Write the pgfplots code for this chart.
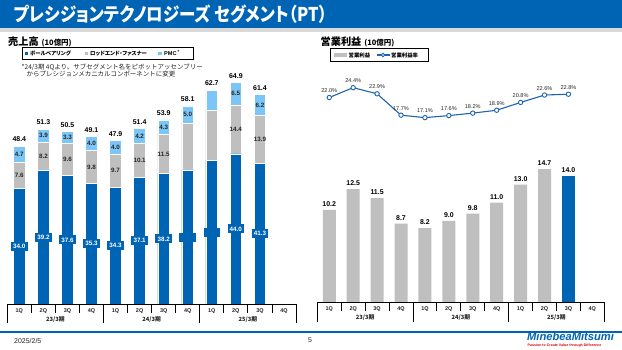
\documentclass[border=0pt]{standalone}
\usepackage{pgfplots}
\pgfplotsset{compat=1.18}
\usepackage{pgfplotstable}
\usepackage{graphicx}
\usepackage{fontspec}
\setmainfont{Liberation Sans}
\newfontfamily\jp[RawFeature=+palt]{Noto Sans CJK JP}
\newfontfamily\jpf{Noto Sans CJK JP}
\definecolor{pblue}{HTML}{0064B4}
\definecolor{lblue}{HTML}{7CC5F7}
\definecolor{pgray}{HTML}{BFBFBF}
\definecolor{lineblue}{HTML}{1E64AF}
\definecolor{hdr}{HTML}{0064B4}
\definecolor{txt}{HTML}{262626}
\definecolor{strip}{HTML}{D9D9D9}
\newcommand{\hid}[1]{\textcolor{pblue}{#1}}
\newcommand{\fs}[1]{\fontsize{#1}{#1}\selectfont}

\pgfplotstableread{
x bb re pmc total bbl rel pmcl
0 34.0 7.6 4.7 48.4 34.0 7.6 4.7
1 39.2 8.2 3.9 51.3 39.2 8.2 3.9
2 37.6 9.6 3.3 50.5 37.6 9.6 3.3
3 35.3 9.8 4.0 49.1 35.3 9.8 4.0
4 34.3 9.7 4.0 47.9 34.3 9.7 4.0
5 37.1 10.1 4.2 51.4 37.1 10.1 4.2
6 38.2 11.5 4.3 53.9 38.2 11.5 4.3
7 39.1 14.0 5.0 58.1 \hid{39.1} {} 5.0
8 42.2 14.5 6.0 62.7 \hid{42.2} {} {}
9 44.0 14.4 6.5 64.9 44.0 14.4 6.5
10 41.3 13.9 6.2 61.4 41.3 13.9 6.2
}\sales

\pgfplotsset{
  qaxis/.style={
    anchor=south west, scale only axis,
    xmin=-0.5, xmax=11.5, ymin=0,
    axis x line*=bottom, axis y line=none,
    x axis line style={-, black, line width=0.8bp},
    xtick={0,...,11},
    xticklabels={1Q,2Q,3Q,4Q,1Q,2Q,3Q,4Q,1Q,2Q,3Q,4Q},
    major tick length=0pt,
    xticklabel style={font=\bfseries\fs{5.5}, text=txt, yshift=-1bp},
    clip=false, axis on top,
  },
  lbl/.style={only marks, mark=text, text mark={}, nodes near coords,
    point meta=explicit symbolic},
}
\newcommand{\qticks}[1]{%
  \draw[black, line width=0.8bp] (axis cs:-0.5,0) -- ([yshift=-#1]axis cs:-0.5,0);
  \draw[black, line width=0.8bp] (axis cs:0.5,0) -- ([yshift=-9bp]axis cs:0.5,0);
  \draw[black, line width=0.8bp] (axis cs:1.5,0) -- ([yshift=-9bp]axis cs:1.5,0);
  \draw[black, line width=0.8bp] (axis cs:2.5,0) -- ([yshift=-9bp]axis cs:2.5,0);
  \draw[black, line width=0.8bp] (axis cs:3.5,0) -- ([yshift=-#1]axis cs:3.5,0);
  \draw[black, line width=0.8bp] (axis cs:4.5,0) -- ([yshift=-9bp]axis cs:4.5,0);
  \draw[black, line width=0.8bp] (axis cs:5.5,0) -- ([yshift=-9bp]axis cs:5.5,0);
  \draw[black, line width=0.8bp] (axis cs:6.5,0) -- ([yshift=-9bp]axis cs:6.5,0);
  \draw[black, line width=0.8bp] (axis cs:7.5,0) -- ([yshift=-#1]axis cs:7.5,0);
  \draw[black, line width=0.8bp] (axis cs:8.5,0) -- ([yshift=-9bp]axis cs:8.5,0);
  \draw[black, line width=0.8bp] (axis cs:9.5,0) -- ([yshift=-9bp]axis cs:9.5,0);
  \draw[black, line width=0.8bp] (axis cs:10.5,0) -- ([yshift=-9bp]axis cs:10.5,0);
  \draw[black, line width=0.8bp] (axis cs:11.5,0) -- ([yshift=-#1]axis cs:11.5,0);
  \node[font=\jp\bfseries\fs{5.8}, text=txt] at ([yshift=-15.3bp]axis cs:1.5,0) {23/3期};
  \node[font=\jp\bfseries\fs{5.8}, text=txt] at ([yshift=-15.3bp]axis cs:5.5,0) {24/3期};
  \node[font=\jp\bfseries\fs{5.8}, text=txt] at ([yshift=-15.3bp]axis cs:9.5,0) {25/3期};
}

\begin{document}
\begin{tikzpicture}
\begin{scope}[x=1bp,y=1bp]
\fill[white] (0,0) rectangle (622,350);
% header
\fill[hdr] (0,322.3) rectangle (622,350);
\fill[strip] (0,318.3) rectangle (622,322.3);
\node[anchor=west, text=white, inner sep=0pt] at (14,336)
  {\scalebox{0.87}[1]{\jp\bfseries\fs{19}プレシジョンテクノロジーズ セグメント（PT）}};
% footer
\draw[hdr, line width=1.1bp] (0,18) -- (622,18);
\node[anchor=west, text=txt, inner sep=0pt, font=\fs{7}] at (14,9.3) {2025/2/5};
\node[text=txt, inner sep=0pt, font=\fs{7}] at (310,9.5) {5};
\node[anchor=west, text=pblue, inner sep=0pt, font=\bfseries\itshape\fs{11.2}] at (527,13.5) {MinebeaMitsumi};
\node[anchor=west, text=red!85!black, inner sep=0pt, font=\bfseries\fs{3.6}] at (527.5,4.8) {Passion to Create Value through Difference};

% left titles
\node[anchor=base west, inner sep=0pt, text=black] at (8,305)
  {\jp\bfseries\fs{10.2}売上高\hspace{3bp}\fs{7.5}(10億円)};
\draw[black, line width=0.8bp] (22.5,290.8) rectangle (193,302.8);
\fill[pblue] (24.8,295) rectangle (28.2,298.4);
\node[anchor=west, inner sep=0pt, font=\jp\bfseries\fs{5.4}] at (30,296.8) {ボールベアリング};
\fill[pgray] (84.8,295) rectangle (88.2,298.4);
\node[anchor=west, inner sep=0pt, font=\jp\bfseries\fs{5.4}] at (90,296.8) {ロッドエンド・ファスナー};
\fill[lblue] (158.3,295) rectangle (161.7,298.4);
\node[anchor=west, inner sep=0pt, font=\bfseries\fs{5.6}] at (164,296.8) {PMC\,\raisebox{2bp}{\fs{4.5}*}};
\node[anchor=west, inner sep=0pt, text=txt, font=\jpf\fs{6.5}] at (21.5,282.4) {*24/3期 4Qより、サブセグメント名をピボットアッセンブリー};
\node[anchor=west, inner sep=0pt, text=txt, font=\jpf\fs{6.5}] at (26.5,275.8) {からプレシジョンメカニカルコンポーネントに変更};

% right titles
\node[anchor=base west, inner sep=0pt, text=black] at (320.5,305)
  {\jp\bfseries\fs{10.2}営業利益\hspace{3bp}\fs{7.5}(10億円)};
\draw[black, line width=0.8bp] (330.7,288.3) rectangle (428.3,301.7);
\draw[pgray, line width=3.6bp] (333.5,295) -- (346.5,295);
\node[anchor=west, inner sep=0pt, font=\jp\bfseries\fs{5.4}] at (348.5,295) {営業利益};
\draw[lineblue, line width=1.2bp] (376.5,295) -- (389.5,295);
\draw[lineblue, fill=white, line width=0.9bp] (383,295) circle (1.8);
\node[anchor=west, inner sep=0pt, font=\jp\bfseries\fs{5.4}] at (391,295) {営業利益率};
\end{scope}

% ---------- left chart: sales ----------
\begin{axis}[qaxis, at={(7.3bp,46bp)}, width=288.7bp, height=238.7bp, ymax=70]
\addplot[ybar, bar width=11.7bp, bar shift=0pt, fill=lblue, draw=white, line width=0.6bp]
  table[x=x, y expr=\thisrow{bb}+\thisrow{re}+\thisrow{pmc}] {\sales};
\addplot[ybar, bar width=11.7bp, bar shift=0pt, fill=pgray, draw=white, line width=0.6bp]
  table[x=x, y expr=\thisrow{bb}+\thisrow{re}] {\sales};
\addplot[ybar, bar width=11.7bp, bar shift=0pt, fill=pblue, draw=white, line width=0.6bp]
  table[x=x, y=bb] {\sales};
% segment labels
\addplot[lbl,
  every node near coord/.append style={anchor=center, fill=pblue, text=white,
    font=\bfseries\fs{6.3}, minimum width=16.5bp, minimum height=9bp, inner sep=0pt}]
  table[x=x, y expr=\thisrow{bb}/2, meta=bbl] {\sales};
\addplot[lbl,
  every node near coord/.append style={anchor=center, text=txt,
    font=\bfseries\fs{6.3}, inner sep=0pt}]
  table[x=x, y expr=\thisrow{bb}+\thisrow{re}/2, meta=rel] {\sales};
\addplot[lbl,
  every node near coord/.append style={anchor=center, text=txt,
    font=\bfseries\fs{6.3}, inner sep=0pt}]
  table[x=x, y expr=\thisrow{bb}+\thisrow{re}+\thisrow{pmc}/2, meta=pmcl] {\sales};
\addplot[lbl,
  every node near coord/.append style={anchor=south, text=black, yshift=2.5bp,
    font=\bfseries\fs{7}, inner sep=1.5bp}]
  table[x=x, y expr=\thisrow{bb}+\thisrow{re}+\thisrow{pmc}, meta=total] {\sales};
\qticks{18.7bp}
\end{axis}

% ---------- right chart: operating income ----------
\begin{axis}[qaxis, at={(317.3bp,47.5bp)}, width=287bp, height=235.8bp, ymax=26]
\addplot[ybar, bar width=13bp, bar shift=0pt, fill=pgray, draw=none,
  nodes near coords, point meta=explicit symbolic,
  every node near coord/.append style={anchor=south, text=black, yshift=1.5bp,
    font=\bfseries\fs{7}, inner sep=1.5bp}]
  coordinates {(0,10.2)[10.2] (1,12.5)[12.5] (2,11.5)[11.5] (3,8.7)[8.7] (4,8.2)[8.2]
    (5,9.0)[9.0] (6,9.8)[9.8] (7,11.0)[11.0] (8,13.0)[13.0] (9,14.7)[14.7]};
\addplot[ybar, bar width=13bp, bar shift=0pt, fill=pblue, draw=none,
  nodes near coords, point meta=explicit symbolic,
  every node near coord/.append style={anchor=south, text=black, yshift=1.5bp,
    font=\bfseries\fs{7}, inner sep=1.5bp}]
  coordinates {(10,14.0)[14.0]};
\qticks{20bp}
\end{axis}

% ---------- right chart: margin line ----------
\begin{axis}[anchor=south west, scale only axis, at={(317.3bp,47.5bp)}, width=287bp, height=235.8bp,
  xmin=-0.5, xmax=11.5, ymin=-27.9, ymax=29.5, hide axis, clip=false]
\addplot[lineblue, line width=1.1bp, mark=*, mark size=2.2bp,
  mark options={fill=white, draw=lineblue, line width=0.9bp},
  nodes near coords, point meta=explicit symbolic,
  every node near coord/.append style={anchor=south, yshift=3.5bp, text=txt,
    font=\fs{5.6}, inner sep=1bp}]
  coordinates {(0,22.0)[22.0\%] (1,24.4)[24.4\%] (2,22.9)[22.9\%] (3,17.7)[17.7\%]
    (4,17.1)[17.1\%] (5,17.6)[17.6\%] (6,18.2)[18.2\%] (7,18.9)[18.9\%]
    (8,20.8)[20.8\%] (9,22.6)[22.6\%] (10,22.8)[22.8\%]};
\end{axis}

\pgfresetboundingbox
\path[use as bounding box] (0,0) rectangle (622bp,350bp);
\end{tikzpicture}
\end{document}
